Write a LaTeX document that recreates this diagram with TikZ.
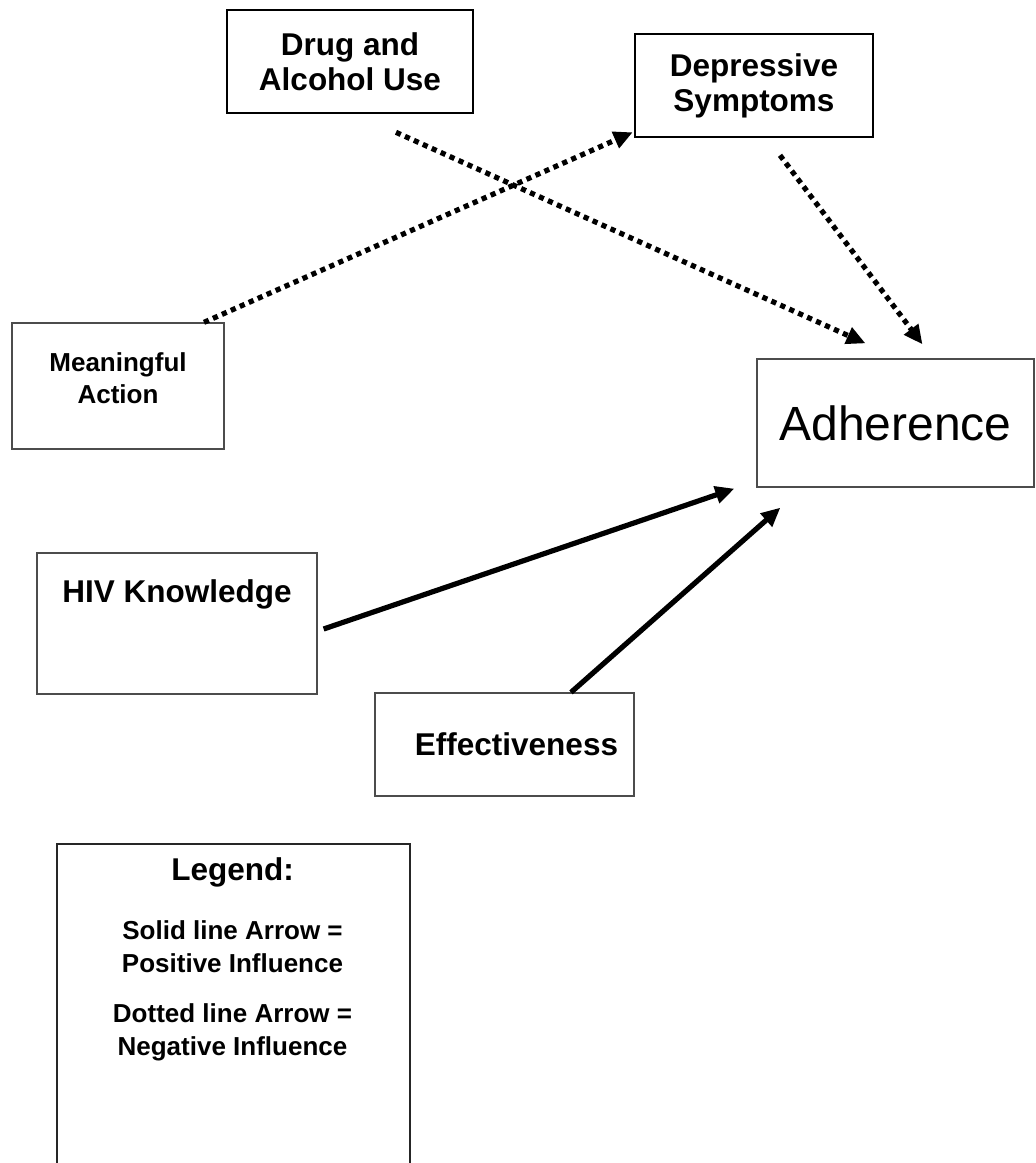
\documentclass[tikz,border=0pt]{standalone}
\usepackage{fontspec}
\setmainfont{Liberation Sans}
\usetikzlibrary{calc,arrows.meta}
\usetikzlibrary{positioning}

\begin{document}
\begin{tikzpicture}[
    x=1pt, y=-1pt,
    >={Triangle[length=19pt,width=17pt]}
  ]

  % Styles for boxes, labels and influence arrows
  \tikzset{
    box/.style={draw=black!70, line width=1.3pt, inner sep=0pt, align=center},
    boldbox/.style={draw=black, line width=2.6pt, inner sep=0pt, align=center},
    legbox/.style={draw=black!85, line width=2pt, inner sep=0pt},
    lbl/.style={font=\fontsize{31.5}{35}\selectfont\bfseries, align=center},
    smalllbl/.style={font=\fontsize{26}{32}\selectfont\bfseries, align=center},
    leglbl/.style={font=\fontsize{26}{33}\selectfont\bfseries, align=center},
    positive/.style={->, line width=5.2pt},
    negative/.style={->, line width=5.2pt, dash pattern=on 5.2pt off 4.6pt}
  }

  \clip (0,0) rectangle (1036,1163);

  % Factor boxes
  \node (drug) [boldbox, lbl, minimum width=246pt, minimum height=103pt] at (350,61.5) {Drug and\\Alcohol Use};
  \node (dep)  [boldbox, lbl, minimum width=238pt, minimum height=103pt] at (754,85.5) {Depressive\\Symptoms};

  \node (mean) [box, minimum width=212pt, minimum height=126pt] at (118,386) {};
  \node (meantext) [smalllbl] at ([yshift=8pt]mean.center) {Meaningful\\Action};

  \node (adh)  [box, minimum width=277pt, minimum height=128pt, font=\fontsize{48}{52}\selectfont] at (895.5,423) {Adherence};

  \node (hiv)  [box, minimum width=280pt, minimum height=141pt] at (177,623.5) {};
  \node (hivtext) [lbl] at ([yshift=29pt]hiv.center) {HIV Knowledge};

  \node (eff)  [box, minimum width=259pt, minimum height=103pt] at (504.5,744.5) {};
  \node (efftext) [lbl] at ([xshift=12pt]eff.center) {Effectiveness};

  % Negative influences (dotted)
  \draw[negative] ($(drug.south)+(46,18)$) -- ($(adh.north)+(-30,-15)$);
  \draw[negative] ($(dep.south)+(26,17)$) -- ($(adh.north)+(27,-14)$);
  \draw[negative] ($(mean.north)+(86,0)$) -- ($(dep.south west)+(-1,-6)$);

  % Positive influences (solid)
  \draw[positive] ($(hiv.east)+(6,5.5)$) -- ($(adh.south west)+(-22,1)$);
  \draw[positive] ($(eff.north)+(66.5,0)$) -- ($(adh.south west)+(24,20)$);

  % Legend
  \node (legend) [legbox, anchor=north west, minimum width=353pt, minimum height=420pt] at (56,843) {};
  \node (legtitle) [lbl] at (232.5,872) {Legend:};
  \node (legsolid) [leglbl, below=27pt of legtitle] {Solid line Arrow =\\Positive Influence};
  \node (legdotted) [leglbl, below=24pt of legsolid] {Dotted line Arrow =\\Negative Influence};

\end{tikzpicture}
\end{document}
